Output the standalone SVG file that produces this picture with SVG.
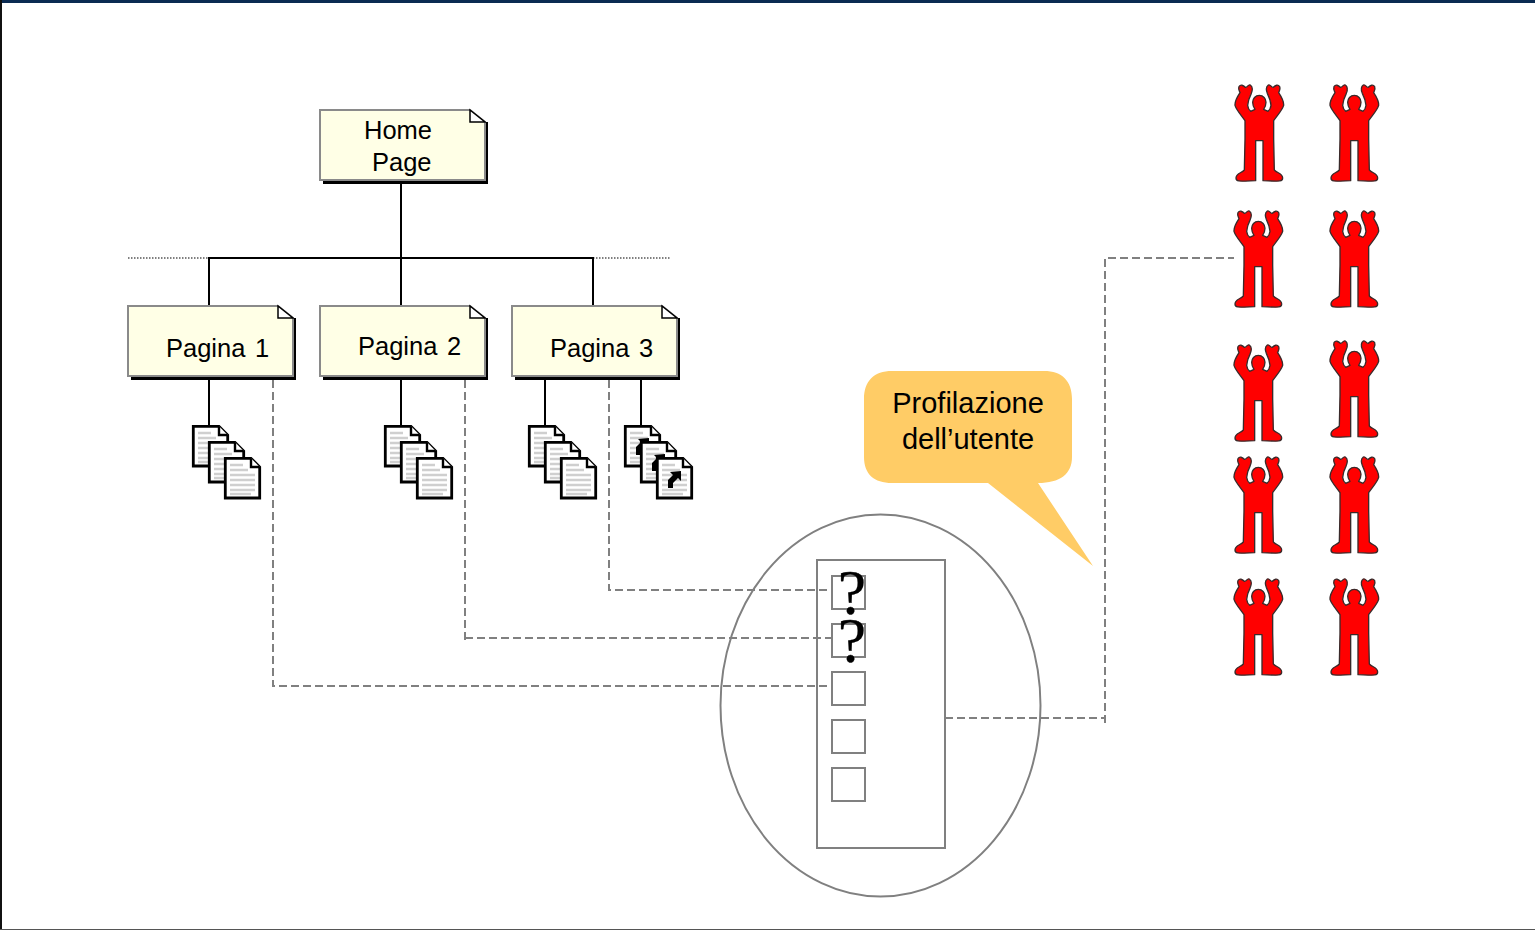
<svg xmlns="http://www.w3.org/2000/svg" width="1535" height="930" viewBox="0 0 1535 930">
<style>
text{font-family:"Liberation Sans",Arial,sans-serif;fill:#000}
.lbl{font-size:25.5px;word-spacing:2.5px}
.call{font-size:29px;text-anchor:middle}
.q{font-family:"Liberation Serif","Times New Roman",serif;font-size:64px;text-anchor:middle;stroke:#000;stroke-width:.3}
.box{fill:#ffffe6;stroke:#8a8a8a;stroke-width:2}
.shadow{fill:#000}
.fold{fill:#fff;stroke:#000;stroke-width:1.5}
.solid{fill:none;stroke:#000;stroke-width:2}
.dot{fill:none;stroke:#000;stroke-width:1.2;stroke-dasharray:1.5 1.5}
.dash{fill:none;stroke:#808080;stroke-width:2;stroke-dasharray:8 4}
.gray{fill:none;stroke:#808080;stroke-width:2}
.cb{fill:#fff;stroke:#808080;stroke-width:2}
</style>
<defs>
<g id="note">
<path class="shadow" d="M165 12H168V74H3V70H165Z"/>
<path class="box" d="M0 0H150L165 12V70H0Z"/>
<path class="fold" d="M150 0V12H165Z"/>
</g>
<g id="page">
<path d="M1.3 1.300H27L35.700 10V41H1.300Z" fill="#fff" stroke="#000" stroke-width="2.8"/>
<path d="M27 1.300V10H35.700" fill="#fff" stroke="#000" stroke-width="2.4"/>
<path d="M6 8H19M6 13H24M6 18H31M6 23H31M6 28H31M6 33H31M6 37H27" stroke="#cfcfcf" stroke-width="2.6" fill="none"/>
</g>
<g id="stack">
<use href="#page" x="0" y="0"/>
<use href="#page" x="16" y="16"/>
<use href="#page" x="32" y="32"/>
</g>
<path id="sc" d="M3 17V9L8 4L5 1L16 0V10L13 7L8 12V17Z" fill="#000"/>
<g id="man">
<path transform="scale(.3333)" fill="#ff0000" stroke="#3a2a2a" stroke-width="4" stroke-linejoin="round" d="M100 64C88 64 80 74 80 85C80 94 83 100 87 106L74 112C69 108 66 102 65 94C66 82 70 70 76 58C80 48 80 38 73 33C66 30 64 42 58 40C52 34 44 30 39 38C36 46 40 50 42 56C34 68 26 80 27 94C32 110 48 126 57 140L57 195L55 288C46 298 30 298 30 312C30 324 40 322 89 320L89 200H111L111 320C160 322 170 324 170 312C170 298 154 298 145 288L143 195L143 140C152 126 168 110 173 94C174 80 166 68 158 56C160 50 164 46 161 38C156 30 148 34 142 40C136 42 134 30 127 33C120 38 120 48 124 58C130 70 134 82 135 94C134 102 131 108 126 112L113 106C117 100 120 94 120 85C120 74 112 64 100 64Z"/>
</g>
</defs>
<rect width="1535" height="930" fill="#fff"/>
<g id="frame">
<rect x="0" y="0" width="1535" height="3" fill="#0b2b52"/>
<rect x="0" y="0" width="2" height="930" fill="#111"/>
<rect x="0" y="929" width="1535" height="1" fill="#555"/>
</g>
<g id="connectors">
<path class="solid" d="M401 180V306M209 306V258H593V306M209 378V426M401 378V426M545 378V426M641 378V426"/>
<path class="dot" d="M128 258H209M593 258H671"/>
<path class="dash" d="M273 380V686H832"/>
<path class="dash" d="M465 380V642M465 638H832"/>
<path class="dash" d="M609 380V590H832"/>
<path class="dash" d="M945 718H1105"/>
<path class="dash" d="M1105 723V258H1234"/>
</g>
<g id="home-page"><use href="#note" x="320" y="110"/><text class="lbl" x="364" y="139">Home</text><text class="lbl" x="372" y="171">Page</text></g>
<g id="pagina-1"><use href="#note" x="128" y="306"/><text class="lbl" x="166" y="357">Pagina 1</text></g>
<g id="pagina-2"><use href="#note" x="320" y="306"/><text class="lbl" x="358" y="355">Pagina 2</text></g>
<g id="pagina-3"><use href="#note" x="512" y="306"/><text class="lbl" x="550" y="357">Pagina 3</text></g>
<g id="docs-1"><use href="#stack" x="192" y="425"/></g>
<g id="docs-2"><use href="#stack" x="384" y="425"/></g>
<g id="docs-3"><use href="#stack" x="528" y="425"/></g>
<g id="docs-4">
<use href="#page" x="624" y="425"/><use href="#sc" x="633" y="438"/>
<use href="#page" x="640" y="441"/><use href="#sc" x="649" y="454"/>
<use href="#page" x="656" y="457"/><use href="#sc" x="665" y="471"/>
</g>
<g id="callout">
<path d="M892 371H1044C1062 371 1072 381 1072 399V457C1072 474 1060 483 1038 483L1093 566L988 483H892C874 483 864 474 864 457V399C864 381 874 371 892 371Z" fill="#ffcc66"/>
<text class="call" x="968" y="413">Profilazione</text>
<text class="call" x="968" y="449">dell’utente</text>
</g>
<g id="profile">
<ellipse class="gray" cx="880.500" cy="705.500" rx="160" ry="191"/>
<rect class="gray" x="817" y="560" width="128" height="288"/>
<rect class="cb" x="832" y="576" width="33" height="33"/>
<rect class="cb" x="832" y="624" width="33" height="33"/>
<rect class="cb" x="832" y="672" width="33" height="33"/>
<rect class="cb" x="832" y="720" width="33" height="33"/>
<rect class="cb" x="832" y="768" width="33" height="33"/>
<text class="q" x="852" y="614">?</text>
<text class="q" x="852" y="662">?</text>
</g>
<g id="users">
<use href="#man" x="1226" y="74"/><use href="#man" x="1321" y="74"/>
<use href="#man" x="1225" y="200"/><use href="#man" x="1321" y="200"/>
<use href="#man" x="1225" y="334"/><use href="#man" x="1321" y="330"/>
<use href="#man" x="1225" y="446"/><use href="#man" x="1321" y="446"/>
<use href="#man" x="1225" y="568"/><use href="#man" x="1321" y="568"/>
</g>
</svg>
